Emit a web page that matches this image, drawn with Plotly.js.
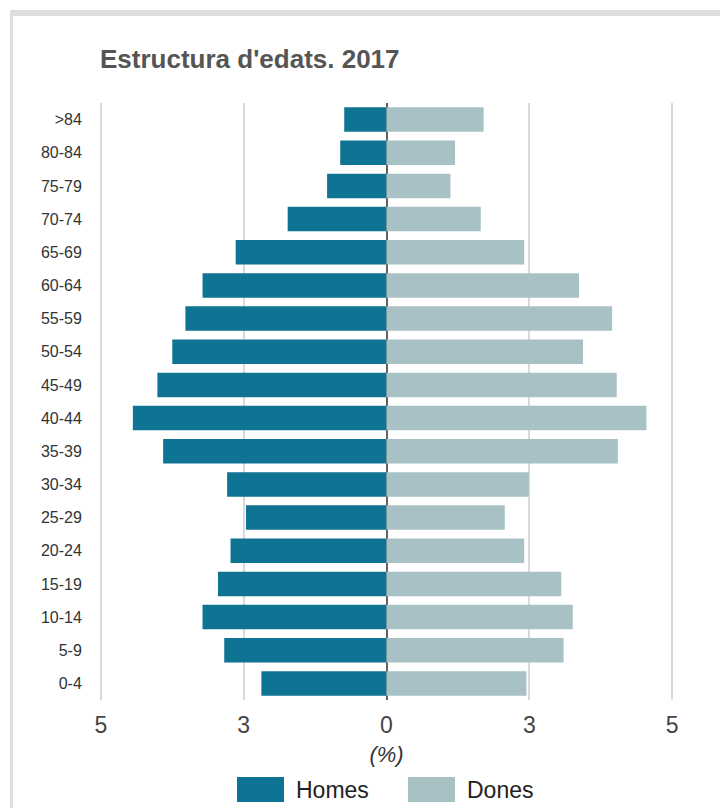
<!DOCTYPE html>
<html>
<head>
<meta charset="utf-8">
<script src="https://cdn.plot.ly/plotly-3.0.1.min.js"></script>
<style>
  html, body { margin: 0; padding: 0; background: #fff; }
  #wrap { position: relative; width: 720px; height: 808px; overflow: hidden; }
  #chart { position: absolute; left: 0; top: 0; width: 720px; height: 808px; }
  #frame { position: absolute; left: 10px; top: 10px; width: 720px; height: 808px;
           border-top: 6px solid #dedede; border-left: 3px solid #dedede; pointer-events: none; }
</style>
</head>
<body>
<div id="wrap">
  <div id="chart"></div>
  <div id="frame"></div>
</div>
<script>
// Age groups, bottom to top
const ageGroups = ['0-4','5-9','10-14','15-19','20-24','25-29','30-34','35-39','40-44',
                   '45-49','50-54','55-59','60-64','65-69','70-74','75-79','80-84','>84'];
// Percent of population
const homes = [2.19, 2.84, 3.22, 2.95, 2.73, 2.46, 2.79, 3.91, 4.44,
               4.01, 3.75, 3.52, 3.22, 2.64, 1.73, 1.04, 0.81, 0.74];
const dones = [2.45, 3.10, 3.26, 3.06, 2.41, 2.07, 2.49, 4.05, 4.55,
               4.03, 3.44, 3.95, 3.37, 2.41, 1.65, 1.12, 1.20, 1.70];
const tickValues = [-5, -2.5, 0, 2.5, 5];
const tickLabels = ['5', '3', '0', '3', '5'];

const traces = [
  {
    type: 'bar', orientation: 'h', name: 'Homes',
    y: ageGroups, x: homes.map(v => -v),
    marker: { color: '#0f7394' },
    hoverinfo: 'skip'
  },
  {
    type: 'bar', orientation: 'h', name: 'Dones',
    y: ageGroups, x: dones,
    marker: { color: '#a8c1c5' },
    hoverinfo: 'skip'
  }
];

const layout = {
  width: 720, height: 808,
  margin: { l: 98, r: 45, t: 103, b: 108 },
  paper_bgcolor: '#ffffff', plot_bgcolor: '#ffffff',
  barmode: 'relative',
  bargap: 0.26,
  font: { family: 'Liberation Sans, Arial, sans-serif', color: '#333' },
  title: {
    text: "<b>Estructura d'edats. 2017</b>",
    font: { family: 'Liberation Sans, Arial, sans-serif', size: 26, color: '#555555' },
    x: 100 / 720, xanchor: 'left', xref: 'container',
    y: 1 - 59 / 808, yanchor: 'middle', yref: 'container'
  },
  xaxis: {
    range: [-5.05, 5.05],
    tickvals: tickValues, ticktext: tickLabels,
    showgrid: true, gridcolor: '#d9d9d9', gridwidth: 2,
    zeroline: true, zerolinecolor: '#626262', zerolinewidth: 2,
    showline: false, automargin: false,
    ticks: 'outside', ticklen: 4, tickcolor: 'rgba(0,0,0,0)',
    tickfont: { size: 23, color: '#444444' },
    title: { text: '<i>(%)</i>', font: { size: 22, color: '#333333' }, standoff: 10 },
    fixedrange: true
  },
  yaxis: {
    type: 'category', automargin: false,
    showgrid: false, zeroline: false, showline: false,
    ticks: 'outside', ticklen: 12, tickcolor: 'rgba(0,0,0,0)',
    tickfont: { size: 16, color: '#333333' },
    fixedrange: true
  },
  showlegend: true,
  legend: {
    orientation: 'h',
    xref: 'container', x: 226 / 720, xanchor: 'left',
    yref: 'container', y: 1 - 789.5 / 808, yanchor: 'middle',
    font: { size: 23, color: '#222222' },
    itemwidth: 60, entrywidth: 96, traceorder: 'normal',
    itemclick: false, itemdoubleclick: false
  }
};

Plotly.newPlot('chart', traces, layout, { displayModeBar: false, staticPlot: true }).then(function () {
  // enlarge legend swatches to wide rectangles like the reference
  document.querySelectorAll('#chart .legend path.legendbar, #chart .legend .legendpoints path').forEach(function (p) {
    p.setAttribute('d', 'M23,12.5H-24V-12.5H23Z');
  });
});
</script>
</body>
</html>
